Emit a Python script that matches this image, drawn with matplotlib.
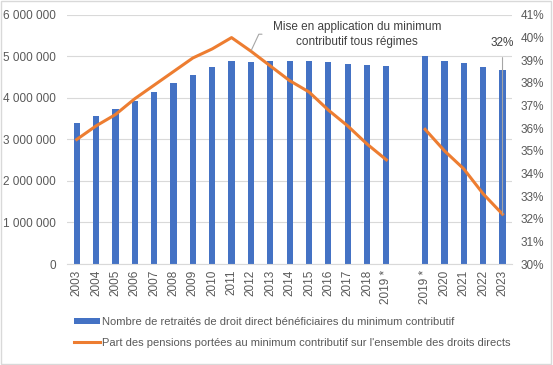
import numpy as np
import matplotlib
matplotlib.use("Agg")
import matplotlib.pyplot as plt
from matplotlib.patches import Rectangle

plt.rcParams['font.family'] = ['Liberation Sans', 'DejaVu Sans']

# catégories (la case vide sépare les deux séries 2019 *)
annees = ['2003', '2004', '2005', '2006', '2007', '2008', '2009', '2010',
          '2011', '2012', '2013', '2014', '2015', '2016', '2017', '2018',
          '2019 *', '', '2019 *', '2020', '2021', '2022', '2023']

# nombre de retraités bénéficiaires du minimum contributif
nb_retraites = [3400000, 3570000, 3730000, 3930000, 4140000, 4360000,
                4550000, 4750000, 4890000, 4870000, 4890000, 4890000,
                4890000, 4870000, 4820000, 4800000, 4770000, np.nan,
                5010000, 4890000, 4840000, 4750000, 4670000]

# part des pensions portées au minimum contributif (%)
part_mico = [35.5, 36.1, 36.6, 37.3, 37.9, 38.5, 39.1, 39.5, 40.0, 39.4,
             38.75, 38.1, 37.6, 36.8, 36.1, 35.3, 34.6, np.nan,
             35.95, 35.0, 34.2, 33.1, 32.2]

bleu = '#4472C4'
orange = '#ED7D31'
gris_txt = '#595959'
gris_grille = '#D9D9D9'

fig = plt.figure(figsize=(5.53, 3.65), dpi=100)
ax = fig.add_axes([0.1212, 0.2767, 0.805, 0.6823])
x = np.arange(len(annees))

b = ax.bar(x, nb_retraites, width=0.32, color=bleu, zorder=2,
           label='Nombre de retraités de droit direct bénéficiaires du minimum contributif')
ax.set_ylim(0, 6000000)
ax.set_yticks(np.arange(0, 6000001, 1000000))
ax.set_yticklabels([f"{int(v):,}".replace(',', ' ') for v in ax.get_yticks()])
ax.set_xlim(-0.5, len(annees) - 0.5)
ax.set_xticks(x)
ax.set_xticklabels(annees, rotation=90, va='top')
ax.grid(axis='y', color=gris_grille, lw=0.8, zorder=0)
for s in ['top', 'left', 'right']:
    ax.spines[s].set_visible(False)
ax.spines['bottom'].set_color(gris_grille)
ax.tick_params(axis='both', length=0, colors=gris_txt, labelsize=8.5)
ax.tick_params(axis='y', pad=8)
ax.tick_params(axis='x', pad=4)

ax2 = ax.twinx()
l, = ax2.plot(x, part_mico, color=orange, lw=2.2, zorder=3,
              label="Part des pensions portées au minimum contributif sur l'ensemble des droits directs")
ax2.set_ylim(30, 41)
ax2.set_yticks(range(30, 42))
ax2.set_yticklabels([f"{v}%" for v in range(30, 42)])
for s in ax2.spines.values():
    s.set_visible(False)
ax2.tick_params(axis='y', length=0, colors=gris_txt, labelsize=8.5, pad=6)

# annotations
ax2.annotate('Mise en application du minimum\ncontributif tous régimes',
             xy=(9, part_mico[9]), xytext=(14.5, 40.15), ha='center', va='center',
             fontsize=8.5, color='#404040', linespacing=1.3,
             arrowprops=dict(arrowstyle='-', color='#A6A6A6', lw=0.8,
                             shrinkA=6, shrinkB=1,
                             connectionstyle='angle,angleA=0,angleB=65,rad=0'))
ax2.annotate('32%', xy=(22, part_mico[22]), xytext=(22, 39.75), ha='center', va='center',
             fontsize=8.5, color='#404040',
             arrowprops=dict(arrowstyle='-', color='#A6A6A6', lw=0.8,
                             shrinkA=4, shrinkB=0))

fig.legend(handles=[b, l], loc='upper left', bbox_to_anchor=(0.133, 0.132),
           frameon=False, fontsize=8, labelcolor=gris_txt, handlelength=2.35,
           handleheight=0.45, handletextpad=0.2, labelspacing=1.0,
           borderaxespad=0, borderpad=0)

fig.patches.append(Rectangle((0.002, 0.003), 0.995, 0.994, transform=fig.transFigure,
                             fill=False, edgecolor=gris_grille, lw=1))

fig.savefig('out.png', dpi=100)
